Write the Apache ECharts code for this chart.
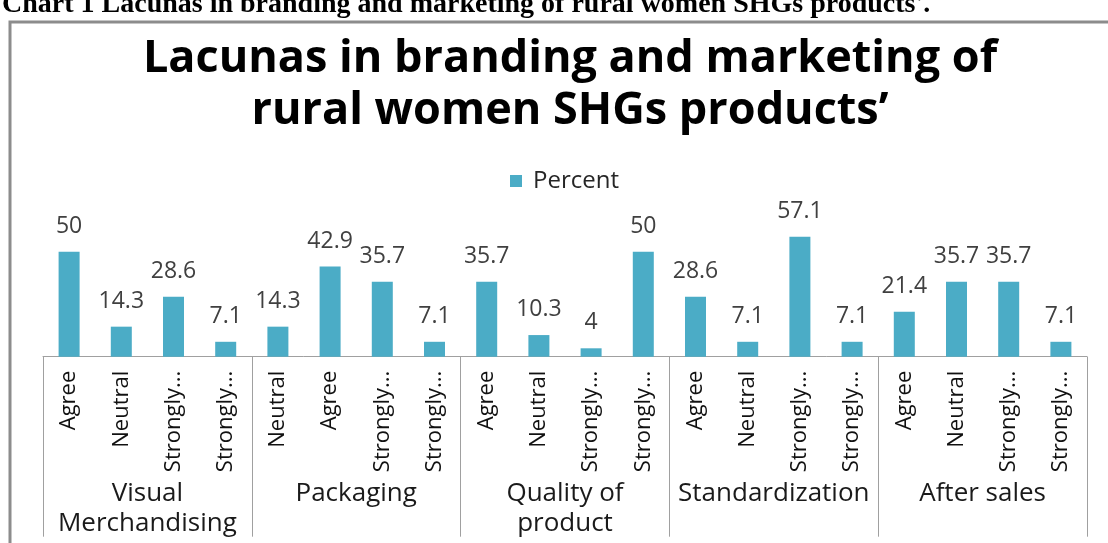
<!DOCTYPE html>
<html>
<head>
<meta charset="utf-8">
<script src="https://cdn.jsdelivr.net/npm/echarts@6/dist/echarts.min.js"></script>
<style>
  html, body { margin: 0; padding: 0; background: #ffffff; }
  #chart { width: 1108px; height: 543px; }
</style>
</head>
<body>
<div id="chart"></div>
<script>
// ---- data ----
const groups = ['Visual\nMerchandising', 'Packaging', 'Quality of\nproduct', 'Standardization', 'After sales'];
const subCategories = [
  'Agree', 'Neutral', 'Strongly...', 'Strongly...',
  'Neutral', 'Agree', 'Strongly...', 'Strongly...',
  'Agree', 'Neutral', 'Strongly...', 'Strongly...',
  'Agree', 'Neutral', 'Strongly...', 'Strongly...',
  'Agree', 'Neutral', 'Strongly...', 'Strongly...'
];
const percentValues = [
  50, 14.3, 28.6, 7.1,
  14.3, 42.9, 35.7, 7.1,
  35.7, 10.3, 4, 50,
  28.6, 7.1, 57.1, 7.1,
  21.4, 35.7, 35.7, 7.1
];
const seriesName = 'Percent';
const captionText = "Chart 1 Lacunas in branding and marketing of rural women SHGs products'.";
const titleText = "Lacunas in branding and marketing of\nrural women SHGs products\u2019";

const FONT = "'Open Sans', sans-serif";
const chart = echarts.init(document.getElementById('chart'), null, { renderer: 'canvas' });

chart.setOption({
  backgroundColor: '#ffffff',
  animation: false,
  title: {
    text: titleText,
    left: 565,
    top: 28,
    textAlign: 'center',
    textStyle: {
      fontFamily: FONT,
      fontWeight: 'bold',
      fontSize: 45,
      lineHeight: 52,
      color: '#000000'
    }
  },
  graphic: [
    {
      type: 'rect',
      shape: { x: 10, y: 22, width: 1200, height: 600 },
      style: { fill: 'none', stroke: '#8c8c8c', lineWidth: 3 },
      silent: true,
      z: -1
    },
    {
      type: 'text',
      left: 2,
      top: -9,
      style: {
        text: captionText,
        font: "bold 28px 'Liberation Serif', serif",
        fill: '#000000'
      },
      silent: true
    }
  ],
  legend: {
    data: [seriesName],
    left: 510,
    top: 169,
    padding: 0,
    icon: 'rect',
    itemWidth: 12,
    itemHeight: 12,
    textStyle: { fontFamily: FONT, fontSize: 24, color: '#262626', padding: [0, 0, 0, 6] }
  },
  grid: {
    left: 43,
    right: 21,
    top: 230.7,
    bottom: 186.3,
    containLabel: false
  },
  xAxis: [
    {
      type: 'category',
      data: subCategories,
      position: 'bottom',
      axisLine: { show: true, lineStyle: { color: '#a0a0a0', width: 1 } },
      axisTick: { show: false },
      axisLabel: {
        interval: 0,
        rotate: 90,
        margin: 14,
        fontFamily: FONT,
        fontSize: 22,
        color: '#111111'
      }
    },
    {
      type: 'category',
      data: groups,
      position: 'bottom',
      axisLine: { show: false },
      axisTick: {
        show: true,
        interval: 0,
        alignWithLabel: false,
        length: 180,
        lineStyle: { color: '#a0a0a0', width: 1 }
      },
      axisLabel: {
        interval: 0,
        margin: 122,
        fontFamily: FONT,
        fontSize: 26,
        lineHeight: 30,
        color: '#1a1a1a'
      }
    }
  ],
  yAxis: {
    type: 'value',
    min: 0,
    max: 60,
    show: false,
    splitLine: { show: false }
  },
  series: [
    {
      name: seriesName,
      type: 'bar',
      xAxisIndex: 0,
      data: percentValues,
      barWidth: 21,
      itemStyle: { color: '#4bacc6' },
      label: {
        show: true,
        position: 'top',
        distance: 14,
        fontFamily: FONT,
        fontSize: 23,
        color: '#404040'
      }
    }
  ]
});
</script>
</body>
</html>
